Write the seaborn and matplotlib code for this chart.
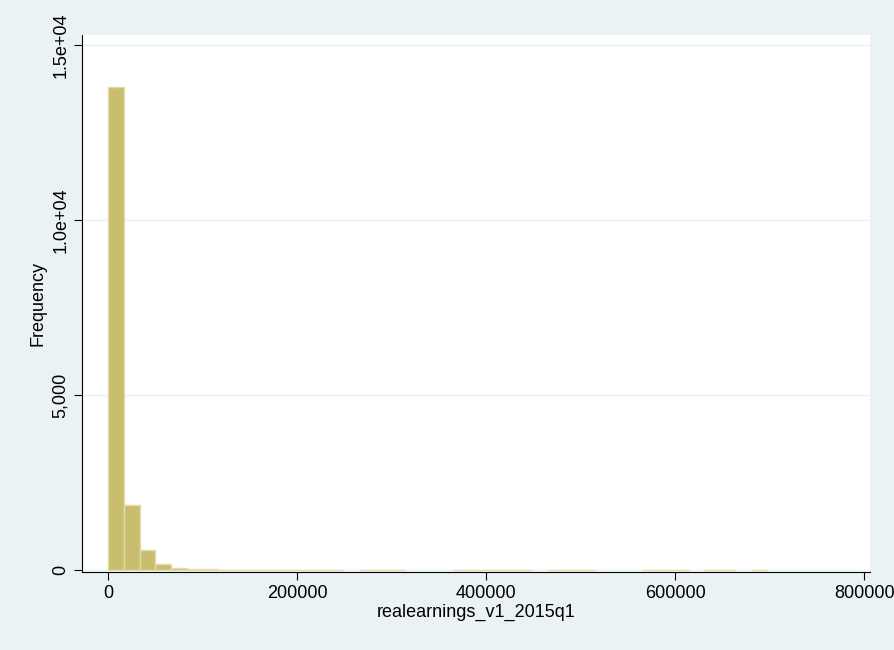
import numpy as np
import pandas as pd
import matplotlib
matplotlib.use("Agg")
import matplotlib.pyplot as plt
import seaborn as sns

bin_width = 16600
counts = [13800, 1850, 560, 170, 50, 20, 12, 8, 6, 5, 4, 4,
          3, 3, 3, 0, 3, 3, 3, 0, 0, 0, 3, 3, 3, 3, 3, 0,
          3, 3, 3, 0, 0, 0, 3, 3, 3, 0, 3, 3, 0, 3, 0, 0,
          0, 0, 0, 0]
edges = np.arange(len(counts) + 1) * bin_width
centers = (edges[:-1] + edges[1:]) / 2
df = pd.DataFrame({"x": centers, "w": counts})

sns.set_style("white")
plt.rcParams['font.family'] = ['Liberation Sans', 'DejaVu Sans']
plt.rcParams['text.color'] = 'black'
fig = plt.figure(figsize=(8.95, 6.5), dpi=100, facecolor="#EAF2F3")
ax = fig.add_axes([0.092, 0.12, 0.88, 0.826])
ax.set_facecolor("white")
sns.histplot(data=df, x="x", weights="w", binwidth=bin_width, binrange=(0, edges[-1]),
             ax=ax, color="#C9BE70", alpha=1, edgecolor="#E3DCA8", linewidth=1)
for p in ax.patches:
    if p.get_height() == 0:
        p.set_visible(False)
ax.set_xlim(-27500, 806000)
ax.set_ylim(-60, 15290)
ax.set_yticks([0, 5000, 10000, 15000])
ax.set_yticklabels(["0", "5,000", "1.0e+04", "1.5e+04"], rotation=90, va="center")
ax.set_xticks([0, 200000, 400000, 600000, 800000])
ax.set_xticklabels(["0", "200000", "400000", "600000", "800000"])
ax.yaxis.grid(True, color="#EAF2F3", linewidth=1)
ax.set_axisbelow(True)
for s in ["top", "right"]:
    ax.spines[s].set_visible(False)
for s in ["left", "bottom"]:
    ax.spines[s].set_color("black")
ax.tick_params(axis="both", length=6, color="black", labelcolor="black", labelsize=13,
               direction="out", bottom=True, left=True)
ax.set_xlabel("realearnings_v1_2015q1", fontsize=13, labelpad=1, color="black")
ax.set_ylabel("Frequency", fontsize=13, color="black")
fig.savefig("out.png", dpi=100, facecolor=fig.get_facecolor())
